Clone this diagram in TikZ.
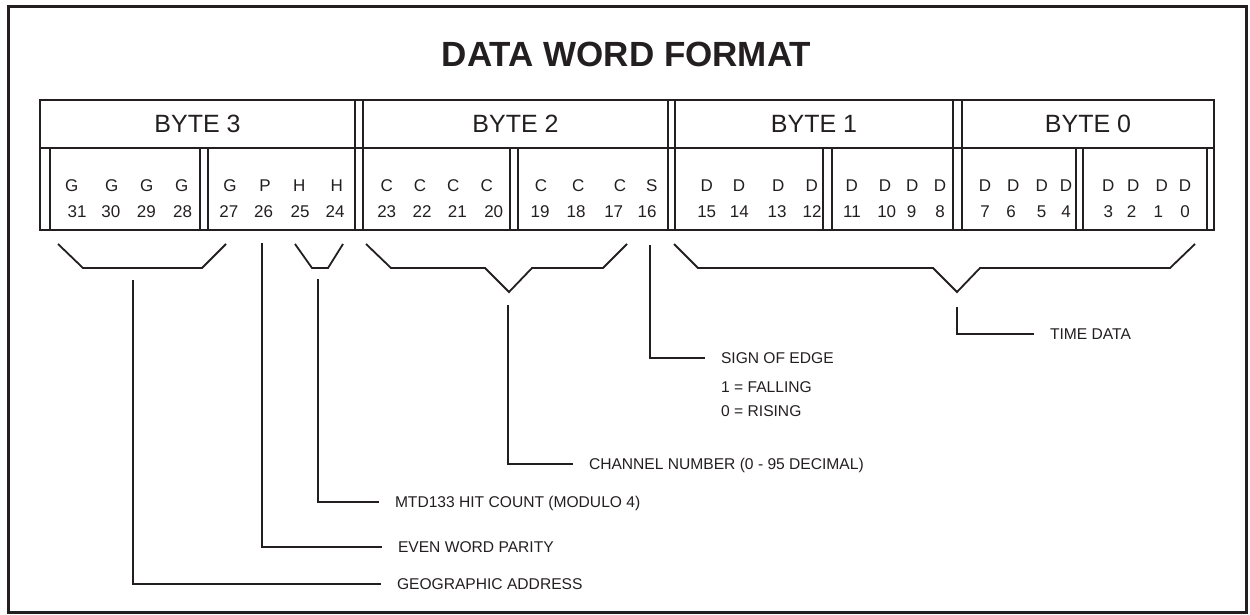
\documentclass[tikz,border=0pt]{standalone}
\usepackage{fontspec}
\setmainfont{Liberation Sans}
\definecolor{ink}{RGB}{35,31,32}
\begin{document}
\begin{tikzpicture}[x=1pt,y=-1pt,
  every node/.style={text=ink},
  frame/.style={draw=ink,line width=2.8pt},
  tbl/.style={draw=ink,line width=1.6pt},
  brk/.style={draw=ink,line width=1.8pt,line join=miter},
  titletxt/.style={inner sep=0pt,font=\fontsize{35}{35}\selectfont\bfseries,text height=25pt,text depth=0pt},
  bytetxt/.style={inner sep=0pt,font=\fontsize{25}{25}\selectfont,text height=17.9pt,text depth=0pt},
  bittxt/.style={inner sep=0pt,font=\fontsize{17}{17}\selectfont,text height=12.2pt,text depth=0pt},
  lbl/.style={anchor=west,inner sep=0pt,outer xsep=16pt,font=\fontsize{15.6}{15.6}\selectfont,text height=11.2pt,text depth=0pt},
  subl/.style={anchor=west,inner sep=0pt,font=\fontsize{15.6}{15.6}\selectfont,text height=11.2pt,text depth=0pt}]
\useasboundingbox (0,0) rectangle (1250,615);
% outer frame
\draw[frame] (8.5,6.5) rectangle (1246.5,612.5);
% title
\node[titletxt] (title) at (626.5,54) {DATA WORD FORMAT};
% table
\draw[tbl] (40,100) rectangle (1214,230);
\draw[tbl] (40,148) -- (1214,148);
\foreach \x in {355,363,668,675,953,962} \draw[tbl] (\x,100) -- (\x,230);
\foreach \x in {50,200,208,510,518,823,832,1076,1083,1207} \draw[tbl] (\x,148) -- (\x,230);
% byte labels
\node[bytetxt] (b3) at (197.5,124) {BYTE 3};
\node[bytetxt] (b2) at (515.5,124) {BYTE 2};
\node[bytetxt] (b1) at (814,124) {BYTE 1};
\node[bytetxt] (b0) at (1088,124) {BYTE 0};
% bits
\foreach \l/\lx/\n/\nx in {
  G/71.7/31/77.2, G/111.7/30/110.8, G/146.7/29/146.3, G/181.7/28/182.7,
  G/230/27/228.8, P/265/26/263.7, H/299.3/25/300, H/336.7/24/335,
  C/386.7/23/386.7, C/420/22/422, C/453.3/21/457.3, C/486.7/20/493.7,
  C/541/19/540, C/578.3/18/576, C/620/17/613.7, S/651.7/16/647,
  D/706.7/15/706.7, D/739/14/739.3, D/778.3/13/777, D/811.7/12/812,
  D/851.7/11/852, D/885/10/886.7, D/912.3/9/911.7, D/940/8/940,
  D/985/7/985, D/1013.3/6/1011, D/1041.7/5/1041.7, D/1066/4/1066,
  D/1108.3/3/1108.3, D/1133.3/2/1131.7, D/1161.7/1/1158.3, D/1185/0/1185}
{
  \node[bittxt] (l\n) at (\lx,185) {\l};
  \node[bittxt] (n\n) at (\nx,211) {\n};
}
% brackets
\draw[brk] (58,244) -- (83,268) -- (202,268) -- (226,244);
\draw[brk] (295,244) -- (312,268) -- (328,268) -- (343,244);
\draw[brk] (366,244) -- (391,268) -- (485,268) -- (509,292) -- (532,268) -- (603,268) -- (627,244);
\draw[brk] (674,244) -- (698,268) -- (933,268) -- (957,292) -- (980,268) -- (1170,268) -- (1195,244);
% stem tops
\coordinate (sgeo) at (133,280);
\coordinate (spar) at (262,243);
\coordinate (smtd) at (318,279);
\coordinate (schn) at (508,305);
\coordinate (ssgn) at (650,245);
\coordinate (stim) at (957,307);
% labels
\node[lbl] (lgeo) at (381,584) {GEOGRAPHIC ADDRESS};
\node[lbl] (lpar) at (382,547) {EVEN WORD PARITY};
\node[lbl] (lmtd) at (379,502) {MTD133 HIT COUNT (MODULO 4)};
\node[lbl] (lchn) at (573,464) {CHANNEL NUMBER (0 - 95 DECIMAL)};
\node[lbl] (lsgn) at (705,358) {SIGN OF EDGE};
\node[subl] (lfal) at (721,387) {1 = FALLING};
\node[subl] (lris) at (721,411) {0 = RISING};
\node[lbl] (ltim) at (1034,334) {TIME DATA};
% leaders
\draw[brk] (sgeo) |- (lgeo.west);
\draw[brk] (spar) |- (lpar.west);
\draw[brk] (smtd) |- (lmtd.west);
\draw[brk] (schn) |- (lchn.west);
\draw[brk] (ssgn) |- (lsgn.west);
\draw[brk] (stim) |- (ltim.west);
\end{tikzpicture}
\end{document}
